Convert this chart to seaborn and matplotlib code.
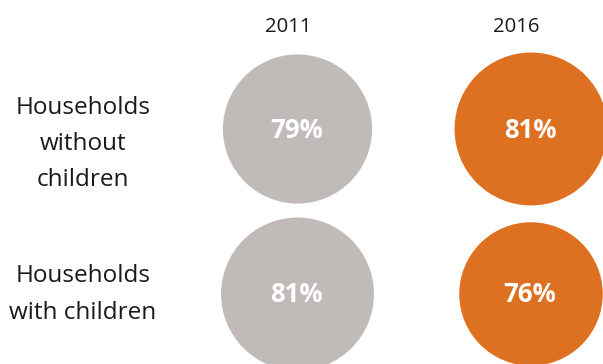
import matplotlib
matplotlib.use("Agg")
import matplotlib.pyplot as plt
import seaborn as sns
import pandas as pd

# Share of households, by household type and census year
years = ["2011", "2016"]
groups = ["Households\nwithout\nchildren", "Households\nwith children"]
values_2011 = [79, 81]
values_2016 = [81, 76]

sns.set_theme(style="white")
plt.rcParams["font.family"] = ["Open Sans", "DejaVu Sans"]

W, H, DPI = 603, 364, 100
fig = plt.figure(figsize=(W / DPI, H / DPI), dpi=DPI)
ax = fig.add_axes([0, 0, 1, 1])
ax.set_xlim(0, W)
ax.set_ylim(H, 0)
ax.axis("off")

col_x = {"2011": 297.5, "2016": 531}
row_y = [129, 294]
header_x = {"2011": 288, "2016": 516}
colors = {"2011": "#C0BBB8", "2016": "#DE7021"}

rows = []
for year, vals in zip(years, [values_2011, values_2016]):
    for i, v in enumerate(vals):
        rows.append({"year": year, "group": groups[i], "value": v,
                     "x": col_x[year], "y": row_y[i]})
df = pd.DataFrame(rows)

# circle radius grows linearly with the share (px per percentage point)
px_per_pct = 0.944
pt_per_px = 72 / DPI
sizes = {v: (2 * px_per_pct * v * pt_per_px) ** 2 for v in df["value"].unique()}

sns.scatterplot(data=df, x="x", y="y", hue="year", palette=colors,
                size="value", sizes=sizes, linewidth=0, legend=False, ax=ax)

for _, r in df.iterrows():
    ax.text(r["x"] - 1, r["y"] + 1, f"{r['value']}%", ha="center", va="center",
            color="white", fontsize=18.5, fontweight="bold")

for year in years:
    ax.text(header_x[year], 27, year, ha="center", va="center",
            color="#1a1a1a", fontsize=14.6)

for i, g in enumerate(groups):
    ax.text(83, [144, 294.5][i], g, ha="center", va="center", color="#1a1a1a",
            fontsize=17.5, linespacing=1.68)

fig.savefig("out.png", dpi=DPI)
